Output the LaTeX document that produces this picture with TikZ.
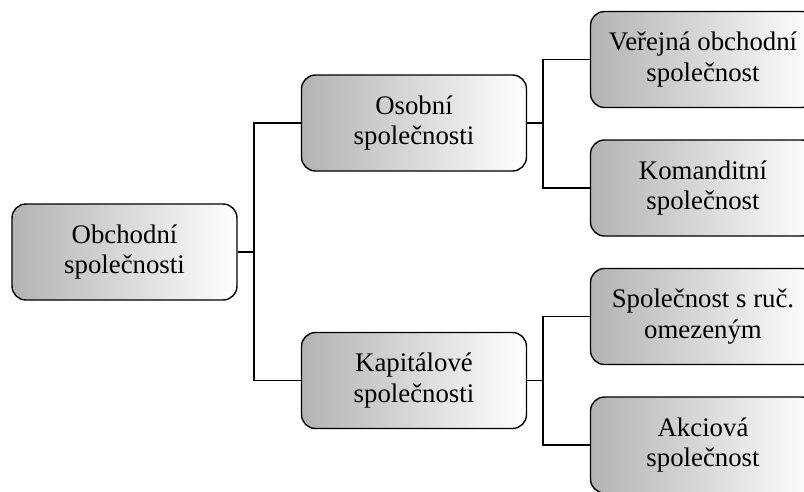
\documentclass[tikz,border=0pt]{standalone}
\usepackage{fontspec}
\setmainfont{Liberation Serif}
\begin{document}
\begin{tikzpicture}[x=1pt,y=-1pt,
  box/.style={draw=black, line width=1.4pt, rectangle, rounded corners=14pt,
    minimum width=225pt, minimum height=96pt, left color=black!30, right color=white,
    align=center, inner sep=0pt, font=\fontsize{26.8}{30.5}\selectfont},
  conn/.style={draw=black, line width=1.3pt}]
\useasboundingbox (0,0) rectangle (804,491);
\clip (0,0) rectangle (804,491);
\node[box] (ob) at (124.5,252) {Obchodní\\společnosti};
\node[box] (os) at (414,123) {Osobní\\společnosti};
\node[box] (ka) at (414,380.5) {Kapitálové\\společnosti};
\node[box] (v1) at (703,59.5) {Veřejná obchodní\\společnost};
\node[box] (v2) at (703,188) {Komanditní\\společnost};
\node[box] (v3) at (703,316.5) {Společnost s ruč.\\omezeným};
\node[box] (v4) at (703,445) {Akciová\\společnost};
\coordinate (j1) at (254,252);
\coordinate (j2) at (543,123);
\coordinate (j3) at (543,380.5);
\draw[conn] (ob.east) -- (j1);
\draw[conn] (os.west) -| (j1) |- (ka.west);
\draw[conn] (os.east) -- (j2);
\draw[conn] (v1.west) -| (j2) |- (v2.west);
\draw[conn] (ka.east) -- (j3);
\draw[conn] (v3.west) -| (j3) |- (v4.west);
\end{tikzpicture}
\end{document}
